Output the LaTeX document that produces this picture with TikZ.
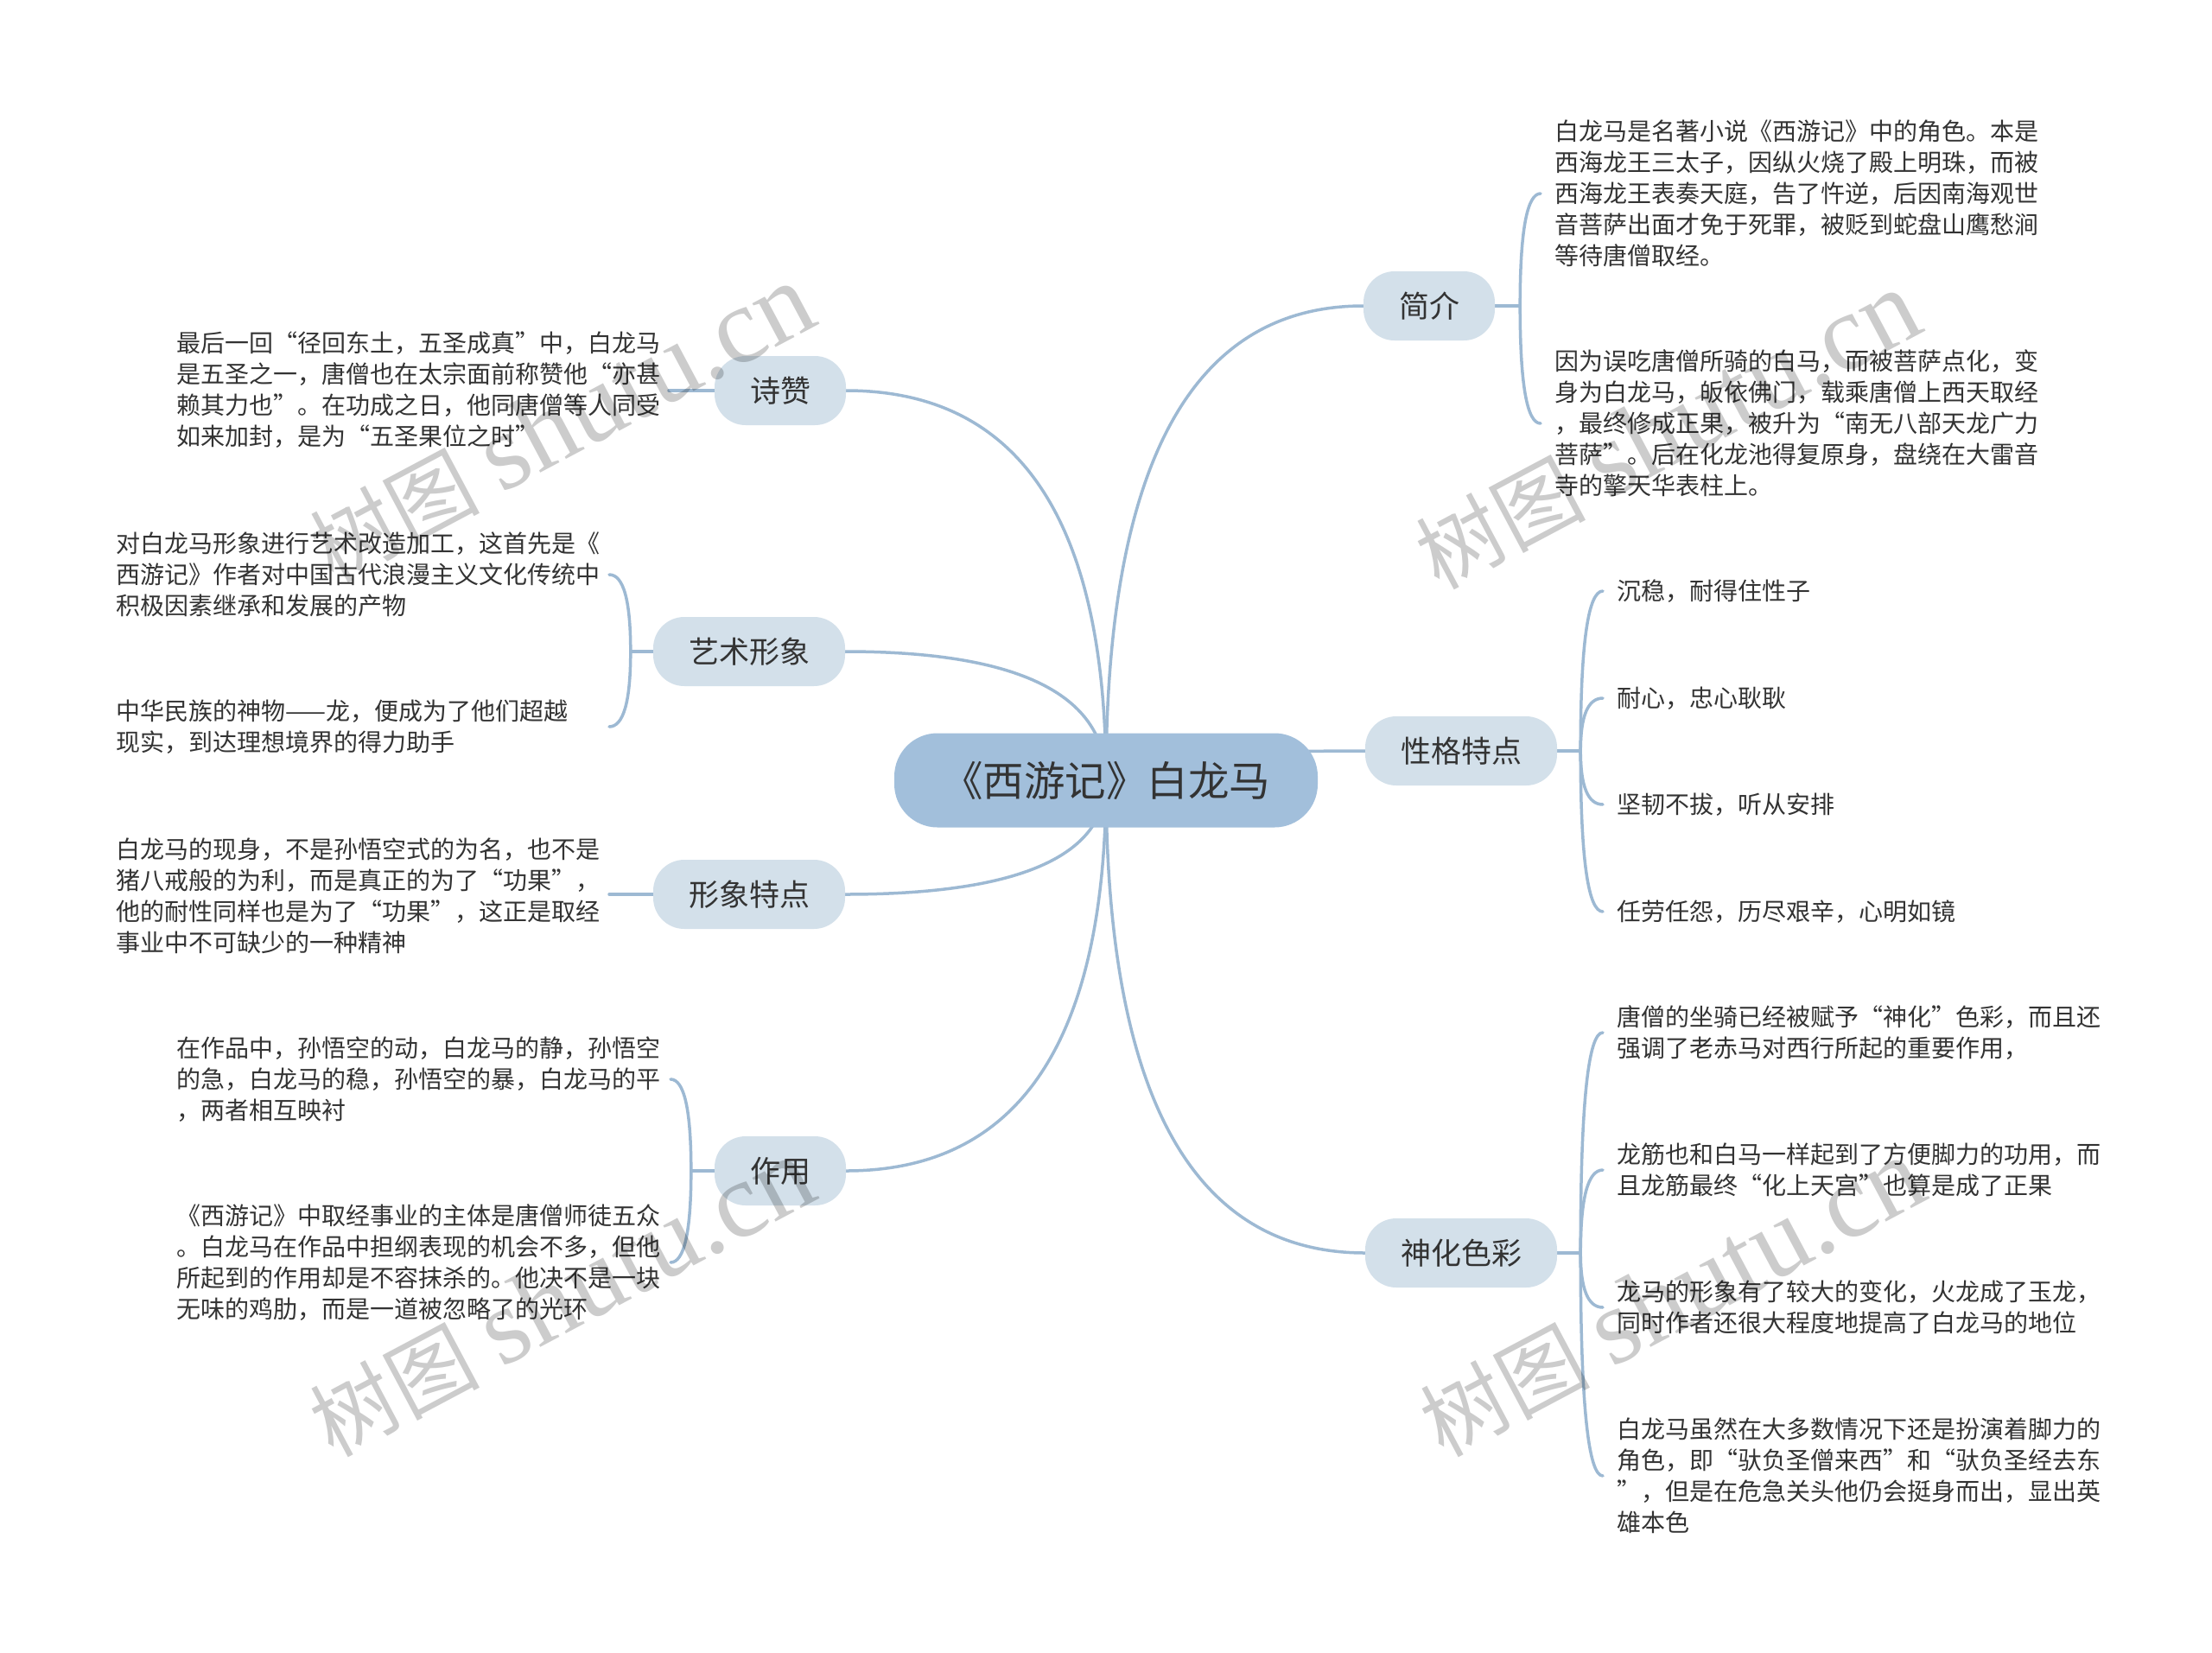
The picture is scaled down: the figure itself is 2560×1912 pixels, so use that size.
\documentclass[tikz,border=0pt]{standalone}
\usepackage{fontspec}
\setmainfont{Noto Sans CJK SC}
\newfontfamily\wmserif{Liberation Serif}
\usetikzlibrary{calc,backgrounds}
\definecolor{lineblue}{HTML}{9DB9D3}
\definecolor{rootfill}{HTML}{A2BFDB}
\definecolor{topicfill}{HTML}{D3E0EA}
\definecolor{txt}{HTML}{333333}
\newcommand{\qcurve}[2]{\draw[conn] (#1) .. controls ($(#1)!0.6667!(#1 |- #2)$) and ($(#2)!0.6667!(#1 |- #2)$) .. (#2);}
\newcommand{\wmtext}{{\fontsize{98}{98}\selectfont 树图}\hspace{24pt}{\wmserif\fontsize{125}{125}\selectfont shutu.cn}}
\tikzset{
  conn/.style={draw=lineblue, line width=3.5pt, line cap=round},
  rootbox/.style={fill=rootfill, rounded corners=50pt, minimum width=490pt, minimum height=109pt, inner sep=0pt, font=\fontsize{47.5}{52}\selectfont, text=txt},
  topic/.style={fill=topicfill, rounded corners=36pt, minimum height=80pt, inner xsep=41pt, inner ysep=0pt, font=\fontsize{35}{40}\selectfont, text=txt},
  leaf/.style={font=\fontsize{28}{36}\selectfont, text=txt, align=left, inner sep=0pt, anchor=west},
  wm/.style={text=black, text opacity=0.2, inner sep=0pt}
}
\begin{document}
\begin{tikzpicture}[x=1pt,y=-1pt]
\useasboundingbox (0,0) rectangle (2560,1912);
% central and main topics
\node[rootbox] (root) at (1280,903) {《西游记》白龙马};
\node[topic] (jj) at (1654,354) {简介};
\node[topic] (xg) at (1691,869) {性格特点};
\node[topic] (sh) at (1691,1450) {神化色彩};
\node[topic] (sz) at (903,452) {诗赞};
\node[topic] (ys) at (867,754) {艺术形象};
\node[topic] (xx) at (867,1035) {形象特点};
\node[topic] (zy) at (903,1355) {作用};
% leaves right
\node[leaf] (jj1) at (1799,224) {白龙马是名著小说《西游记》中的角色。本是\\西海龙王三太子，因纵火烧了殿上明珠，而被\\西海龙王表奏天庭，告了忤逆，后因南海观世\\音菩萨出面才免于死罪，被贬到蛇盘山鹰愁涧\\等待唐僧取经。};
\node[leaf] (jj2) at (1799,490) {因为误吃唐僧所骑的白马，而被菩萨点化，变\\身为白龙马，皈依佛门，载乘唐僧上西天取经\\，最终修成正果，被升为“南无八部天龙广力\\菩萨”。后在化龙池得复原身，盘绕在大雷音\\寺的擎天华表柱上。};
\node[leaf] (xg1) at (1871,684) {沉稳，耐得住性子};
\node[leaf] (xg2) at (1871,808) {耐心，忠心耿耿};
\node[leaf] (xg3) at (1871,931) {坚韧不拔，听从安排};
\node[leaf] (xg4) at (1871,1055) {任劳任怨，历尽艰辛，心明如镜};
\node[leaf] (sh1) at (1871,1195) {唐僧的坐骑已经被赋予“神化”色彩，而且还\\强调了老赤马对西行所起的重要作用，};
\node[leaf] (sh2) at (1871,1354) {龙筋也和白马一样起到了方便脚力的功用，而\\且龙筋最终“化上天宫”也算是成了正果};
\node[leaf] (sh3) at (1871,1513) {龙马的形象有了较大的变化，火龙成了玉龙，\\同时作者还很大程度地提高了白龙马的地位};
\node[leaf] (sh4) at (1871,1708) {白龙马虽然在大多数情况下还是扮演着脚力的\\角色，即“驮负圣僧来西”和“驮负圣经去东\\”，但是在危急关头他仍会挺身而出，显出英\\雄本色};
% leaves left
\node[leaf] (sz1) at (204,451) {最后一回“径回东土，五圣成真”中，白龙马\\是五圣之一，唐僧也在太宗面前称赞他“亦甚\\赖其力也”。在功成之日，他同唐僧等人同受\\如来加封，是为“五圣果位之时”};
\node[leaf] (ys1) at (134,665) {对白龙马形象进行艺术改造加工，这首先是《\\西游记》作者对中国古代浪漫主义文化传统中\\积极因素继承和发展的产物};
\node[leaf] (ys2) at (134,841) {中华民族的神物——龙，便成为了他们超越\\现实，到达理想境界的得力助手};
\node[leaf] (xx1) at (134,1037) {白龙马的现身，不是孙悟空式的为名，也不是\\猪八戒般的为利，而是真正的为了“功果”，\\他的耐性同样也是为了“功果”，这正是取经\\事业中不可缺少的一种精神};
\node[leaf] (zy1) at (204,1249) {在作品中，孙悟空的动，白龙马的静，孙悟空\\的急，白龙马的稳，孙悟空的暴，白龙马的平\\，两者相互映衬};
\node[leaf] (zy2) at (204,1461) {《西游记》中取经事业的主体是唐僧师徒五众\\。白龙马在作品中担纲表现的机会不多，但他\\所起到的作用却是不容抹杀的。他决不是一块\\无味的鸡肋，而是一道被忽略了的光环};
% junction and end coordinates
\coordinate (jjJ) at ($(jj.east)+(29,0)$);
\coordinate (jjE1) at ($(jj1.west)+(-16,0)$);
\coordinate (jjE2) at ($(jj2.west)+(-16,0)$);
\coordinate (xgJ) at ($(xg.east)+(27,0)$);
\coordinate (xgE1) at ($(xg1.west)+(-16,0)$);
\coordinate (xgE2) at ($(xg2.west)+(-16,0)$);
\coordinate (xgE3) at ($(xg3.west)+(-16,0)$);
\coordinate (xgE4) at ($(xg4.west)+(-16,0)$);
\coordinate (shJ) at ($(sh.east)+(27,0)$);
\coordinate (shE1) at ($(sh1.west)+(-16,0)$);
\coordinate (shE2) at ($(sh2.west)+(-16,0)$);
\coordinate (shE3) at ($(sh3.west)+(-16,0)$);
\coordinate (shE4) at ($(sh4.west)+(-16,0)$);
\coordinate (szE) at (774,452);
\coordinate (ysJ) at ($(ys.west)+(-26,0)$);
\coordinate (ysE1) at (705,665);
\coordinate (ysE2) at (705,841);
\coordinate (xxE) at (705,1035);
\coordinate (zyJ) at ($(zy.west)+(-27,0)$);
\coordinate (zyE1) at (776,1249);
\coordinate (zyE2) at (776,1461);
\begin{pgfonlayer}{background}
\fill[white] (0,0) rectangle (2560,1912);
\qcurve{root.center}{jj.west}
\qcurve{root.center}{xg.west}
\qcurve{root.center}{sh.west}
\qcurve{root.center}{sz.east}
\qcurve{root.center}{ys.east}
\qcurve{root.center}{xx.east}
\qcurve{root.center}{zy.east}
\draw[conn] (jj.east) -- (jjJ);
\qcurve{jjJ}{jjE1}
\qcurve{jjJ}{jjE2}
\draw[conn] (xg.east) -- (xgJ);
\qcurve{xgJ}{xgE1}
\qcurve{xgJ}{xgE2}
\qcurve{xgJ}{xgE3}
\qcurve{xgJ}{xgE4}
\draw[conn] (sh.east) -- (shJ);
\qcurve{shJ}{shE1}
\qcurve{shJ}{shE2}
\qcurve{shJ}{shE3}
\qcurve{shJ}{shE4}
\draw[conn] (sz.west) -- (szE);
\draw[conn] (ys.west) -- (ysJ);
\qcurve{ysJ}{ysE1}
\qcurve{ysJ}{ysE2}
\draw[conn] (xx.west) -- (xxE);
\draw[conn] (zy.west) -- (zyJ);
\qcurve{zyJ}{zyE1}
\qcurve{zyJ}{zyE2}
\end{pgfonlayer}
% watermarks
\node[wm, rotate=28] (wm1) at (650,490) {\wmtext};
\node[wm, rotate=28] (wm2) at (1930,498) {\wmtext};
\node[wm, rotate=28] (wm3) at (650,1502) {\wmtext};
\node[wm, rotate=28] (wm4) at (1935,1502) {\wmtext};
\end{tikzpicture}
\end{document}
